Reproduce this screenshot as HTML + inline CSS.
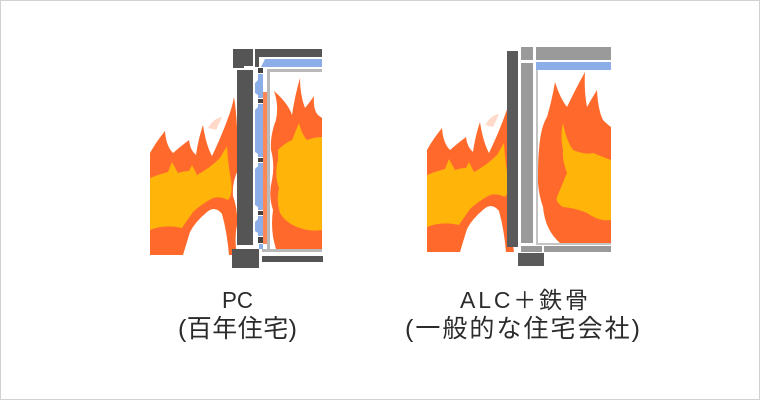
<!DOCTYPE html>
<html><head><meta charset="utf-8">
<style>
html,body{margin:0;padding:0;background:#fff;}
svg{display:block;}
text{font-family:"Liberation Sans","Noto Sans CJK JP",sans-serif;fill:#2b2b2b;}
</style></head>
<body>
<svg width="760" height="400" viewBox="0 0 760 400" xmlns="http://www.w3.org/2000/svg">
<rect x="0.5" y="0.5" width="759" height="399" fill="#fff" stroke="#d2d2d2" stroke-width="1"/>
<defs>
  <clipPath id="pcin"><rect x="270" y="72" width="52" height="177"/></clipPath>
  <clipPath id="alcin"><rect x="538" y="70" width="73" height="173"/></clipPath>
  <g id="lflame">
    <path fill="#ff6a2c" d="M150,153 Q156,142 165,131 Q166,146 173,153 Q181,146 189,140 Q190,150 196,155 Q198,140 203,125 Q206,145 212,156 Q222,135 228,118 Q232,108 234,97 Q238,120 238,170 Q232,182 233,196 Q238,210 237,225 Q234,240 237,255 L229,255 Q227,232 222,214 Q215,205 207,212 Q195,222 190,232 Q186,245 183,255 L150,255 Z"/>
    <path fill="#ffb40a" d="M150,178 Q160,174 168,172 L172,162 L178,173 Q184,171 189,171 L192,165 L197,175 Q210,168 220,158 L227,146 Q228,165 231,180 Q233,195 228,200 Q220,196 213,198 Q200,205 193,212 Q186,222 182,228 Q165,224 150,230 Z"/>
    <path fill="#ff6a2c" opacity="0.25" d="M208,128 Q214,118 222,117 Q219,124 216,130 Z"/>
  </g>
</defs>

<!-- ===== PC ===== -->
<use href="#lflame"/>
<g clip-path="url(#pcin)">
  <path fill="#ff6a2c" d="M276,249 Q270,230 273,210 Q268,195 272,180 Q275,165 271,150 Q270,135 276,120 Q279,105 274,91 Q288,103 292,115 Q295,95 300,78 Q300,95 305,108 Q310,102 314,96 Q313,110 318,115 L322,118 L322,249 Z"/>
  <path fill="#ffb40a" d="M278,150 Q285,143 292,140 L299,123 Q302,135 307,140 Q315,137 322,137 L322,230 Q310,232 297,227 Q285,222 280,213 Q276,200 279,188 Q274,175 278,160 Z"/>
</g>
<rect x="263" y="92" width="4" height="152" fill="#ff6a2c" opacity="0.8"/>
<path fill="#555" d="M233,49 H253 V66 H244 V68 H233 Z"/>
<path fill="#555" d="M255,49 H322 V57 H259 V67 H255 Z"/>
<path fill="#8caee8" d="M265,59 H322 V67 H261 Z"/>
<rect x="237" y="70" width="16" height="175" fill="#555"/>
<path fill="#8caee8" d="M258,74 H263 V98 H258 V95 L255,93 V83 L258,80 Z"/>
<path fill="#8caee8" d="M258,104 H263 V157 H258 V154 L255,152 V110 L258,107 Z"/>
<path fill="#8caee8" d="M258,163 H263 V210 H258 V207 L255,205 V169 L258,166 Z"/>
<path fill="#8caee8" d="M258,216 H263 V236 H258 V233 L255,231 V222 L258,219 Z"/>
<rect x="259" y="244" width="4" height="5" fill="#8caee8"/>
<rect x="258" y="68" width="5" height="5" fill="#444"/>
<rect x="258" y="99" width="5" height="4" fill="#444"/>
<rect x="258" y="158" width="5" height="4" fill="#444"/>
<rect x="258" y="211" width="5" height="4" fill="#444"/>
<rect x="258" y="237" width="5" height="6" fill="#444"/>
<rect x="267" y="69" width="55" height="3" fill="#b9b9b9"/>
<rect x="267" y="69" width="3" height="183" fill="#b9b9b9"/>
<rect x="262" y="249" width="60" height="3" fill="#b9b9b9"/>
<rect x="262" y="256" width="61" height="6" fill="#555"/>
<rect x="232" y="249" width="27" height="19" fill="#555"/>

<!-- ===== ALC ===== -->
<use href="#lflame" transform="translate(277,-3)"/>
<g clip-path="url(#alcin)">
  <path fill="#ff6a2c" d="M560,243 Q545,230 543,207 Q537,190 538,173 Q538,155 540,140 Q542,125 547,117 Q552,100 555,82 Q560,98 567,107 Q575,90 585,72 Q584,92 587,107 Q592,98 597,90 Q598,110 603,120 Q608,125 611,127 L611,243 Z"/>
  <path fill="#ffb40a" d="M563,123 Q566,140 573,150 Q585,155 593,153 Q603,157 611,160 L611,220 Q600,222 587,213 Q575,208 563,207 Q555,202 557,197 Q562,185 567,173 Q562,160 563,150 Q560,135 563,123 Z"/>
</g>
<path fill="#ff6a2c" opacity="0.2" d="M540,150 Q548,160 546,185 Q541,180 540,170 Z"/>
<rect x="507" y="51" width="11" height="196" fill="#5a5a5a"/>
<rect x="521" y="47" width="12" height="13" fill="#9a9a9a"/>
<rect x="521" y="63" width="12" height="180" fill="#9a9a9a"/>
<rect x="536" y="47" width="75" height="13" fill="#9a9a9a"/>
<rect x="536" y="62" width="75" height="8" fill="#8caee8"/>
<rect x="536" y="70" width="2" height="175" fill="#c4c4c4"/>
<rect x="536" y="243" width="75" height="2" fill="#c4c4c4"/>
<rect x="521" y="246" width="21" height="6" fill="#9a9a9a"/>
<rect x="544" y="246" width="67" height="6" fill="#9a9a9a"/>
<rect x="518" y="253" width="26" height="13" fill="#5a5a5a"/>

<!-- ===== Labels ===== -->
<text x="222" y="308" font-size="23" textLength="31" lengthAdjust="spacingAndGlyphs">PC</text>
<text x="178" y="337" font-size="25" textLength="119" lengthAdjust="spacing">(百年住宅)</text>
<text x="460" y="308" font-size="23" textLength="128" lengthAdjust="spacing">ALC＋鉄骨</text>
<text x="405" y="337" font-size="25" textLength="235" lengthAdjust="spacing">(一般的な住宅会社)</text>
</svg>
</body></html>
